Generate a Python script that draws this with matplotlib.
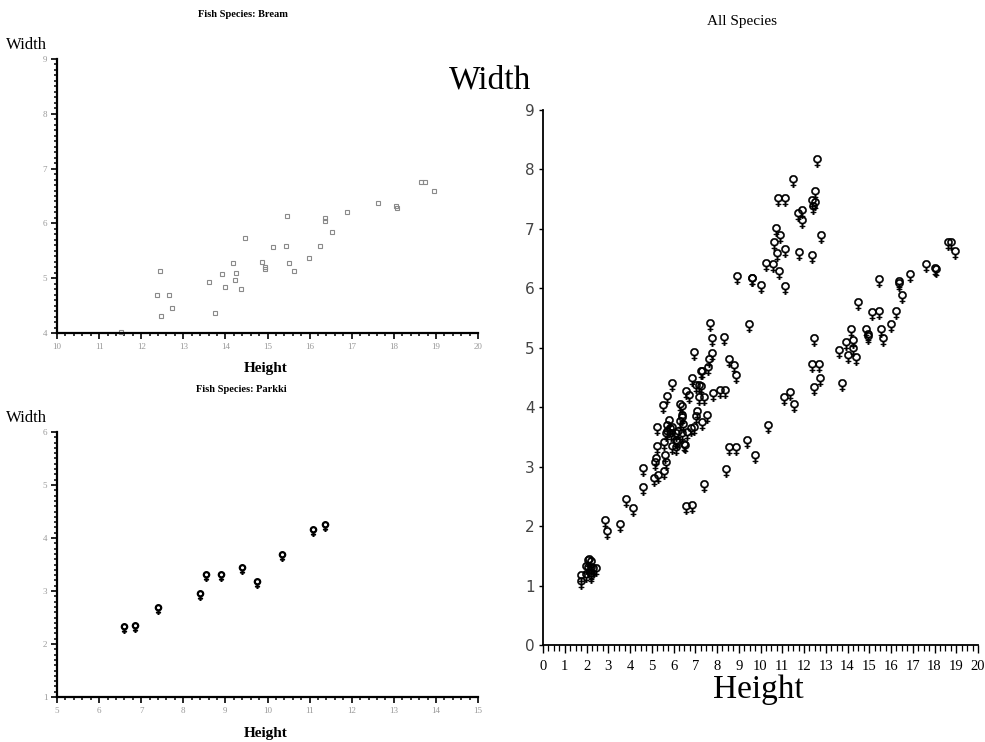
import matplotlib
matplotlib.use("Agg")
import matplotlib.pyplot as plt
from matplotlib.ticker import MultipleLocator

# Fish market data: (height, width) per species
bream_h = [11.52, 12.48, 12.38, 12.73, 12.44, 13.60, 14.18, 12.67, 14.00, 14.23,
           14.26, 14.37, 13.76, 13.91, 14.95, 15.44, 14.86, 14.94, 15.63, 14.47,
           15.13, 15.99, 15.52, 15.47, 16.24, 16.36, 16.36, 16.52, 16.89, 18.96,
           18.04, 18.08, 18.75, 18.64, 17.62]
bream_w = [4.02, 4.31, 4.70, 4.46, 5.13, 4.93, 5.28, 4.69, 4.84, 4.96,
           5.10, 4.81, 4.37, 5.07, 5.17, 5.58, 5.29, 5.20, 5.13, 5.73,
           5.57, 5.37, 5.28, 6.13, 5.59, 6.05, 6.09, 5.85, 6.20, 6.60,
           6.31, 6.29, 6.75, 6.75, 6.37]

parkki_h = [6.85, 6.58, 7.41, 8.39, 8.89, 8.54, 9.40, 9.74, 10.35, 11.09, 11.37]
parkki_w = [2.33, 2.31, 2.67, 2.92, 3.29, 3.29, 3.41, 3.16, 3.66, 4.14, 4.23]

roach_h = [4.15, 5.30, 5.58, 5.62, 6.22, 6.48, 6.17, 6.11, 5.80, 6.63,
           7.03, 6.55, 6.40, 7.53, 6.92, 7.40, 7.09, 8.88, 8.57, 9.49]
roach_w = [2.27, 2.82, 2.90, 3.17, 3.57, 3.35, 3.40, 3.29, 3.75, 3.55,
           3.82, 3.33, 3.80, 3.84, 3.63, 4.13, 3.91, 4.50, 4.77, 5.36]

whitefish_h = [8.38, 8.15, 8.78, 10.74, 11.76, 12.35]
whitefish_w = [4.25, 4.25, 4.68, 6.56, 6.57, 6.53]

perch_h = [2.11, 3.53, 3.82, 4.59, 4.59, 5.22, 5.20, 5.64, 5.14, 5.08,
           5.69, 5.92, 5.69, 6.38, 6.11, 5.64, 6.11, 5.88, 5.52, 5.86,
           6.79, 5.95, 5.22, 6.28, 7.29, 6.38, 6.73, 6.44, 6.56, 7.17,
           8.32, 7.17, 7.05, 7.28, 7.82, 7.59, 7.62, 10.03, 10.26, 11.49,
           10.88, 10.61, 10.84, 10.57, 11.14, 11.14, 12.43, 11.93, 11.73, 12.38,
           11.14, 12.80, 11.93, 12.51, 12.60, 12.49]
perch_w = [1.41, 2.00, 2.43, 2.63, 2.94, 3.32, 3.12, 3.05, 3.04, 2.77,
           3.56, 3.31, 3.67, 3.53, 3.41, 3.53, 3.53, 3.53, 4.00, 3.62,
           3.62, 3.63, 3.63, 3.73, 3.72, 3.83, 4.17, 3.68, 4.24, 4.14,
           5.14, 4.34, 4.34, 4.57, 4.20, 4.64, 4.77, 6.02, 6.39, 7.80,
           6.86, 6.74, 6.26, 6.37, 7.49, 6.00, 7.35, 7.11, 7.23, 7.46,
           6.63, 6.87, 7.28, 7.42, 8.14, 7.60]

pike_h = [5.57, 5.71, 5.94, 6.29, 7.29, 6.40, 7.28, 6.83, 7.79, 6.96,
          7.79, 7.68, 8.93, 10.69, 9.60, 9.60, 10.81]
pike_w = [3.38, 4.16, 4.38, 4.02, 4.58, 3.98, 4.32, 4.46, 5.13, 4.90,
          4.87, 5.38, 6.17, 6.98, 6.14, 6.14, 7.48]

smelt_h = [1.74, 1.97, 1.73, 2.20, 2.08, 1.98, 2.21, 2.21, 2.20, 2.09,
           2.43, 2.28, 2.87, 2.93]
smelt_w = [1.05, 1.16, 1.15, 1.38, 1.28, 1.29, 1.28, 1.17, 1.15, 1.39,
           1.27, 1.26, 2.07, 1.88]

all_h = bream_h + roach_h + whitefish_h + parkki_h + perch_h + pike_h + smelt_h
all_w = bream_w + roach_w + whitefish_w + parkki_w + perch_w + pike_w + smelt_w

SERIF = "Liberation Serif"


def style_small(ax, xlim, ylim):
    ax.set_xlim(*xlim)
    ax.set_ylim(*ylim)
    ax.spines["top"].set_visible(False)
    ax.spines["right"].set_visible(False)
    ax.spines["left"].set_linewidth(1.6)
    ax.spines["bottom"].set_linewidth(1.6)
    ax.xaxis.set_major_locator(MultipleLocator(1))
    ax.xaxis.set_minor_locator(MultipleLocator(0.2))
    ax.yaxis.set_major_locator(MultipleLocator(1))
    ax.yaxis.set_minor_locator(MultipleLocator(0.1))
    ax.tick_params(which="major", length=4, width=1.2, labelsize=6.5,
                   labelcolor="#999999", pad=3)
    ax.tick_params(which="minor", length=2.5, width=1.1)
    for lab in ax.get_xticklabels() + ax.get_yticklabels():
        lab.set_family(SERIF)


fig = plt.figure(figsize=(9.85, 7.42), dpi=100)

# Bream
ax1 = fig.add_axes([0.0579, 0.5512, 0.4274, 0.3693])
ax1.plot(bream_h, bream_w, ls="none", marker="s", ms=3.4, mfc="none",
         mec="#8a8a8a", mew=0.8, clip_on=False)
style_small(ax1, (10, 20), (4, 9))
fig.text(0.2467, 0.981, "Fish Species: Bream", family=SERIF, weight="bold",
         fontsize=7.5, ha="center", va="center")
fig.text(0.006, 0.939, "Width", family=SERIF, fontsize=12, ha="left", va="center")
fig.text(0.270, 0.503, "Height", family=SERIF, weight="bold", fontsize=11,
         ha="center", va="center")

# Parkki
ax2 = fig.add_axes([0.0579, 0.0606, 0.4274, 0.3572])
ax2.plot(parkki_h, parkki_w, ls="none", marker="$♀$", ms=7, color="black",
         mew=0.9)
style_small(ax2, (5, 15), (1, 6))
fig.text(0.2447, 0.4757, "Fish Species: Parkki", family=SERIF, weight="bold",
         fontsize=7.5, ha="center", va="center")
fig.text(0.006, 0.4367, "Width", family=SERIF, fontsize=12, ha="left", va="center")
fig.text(0.270, 0.0121, "Height", family=SERIF, weight="bold", fontsize=11,
         ha="center", va="center")

# All species
ax3 = fig.add_axes([0.5513, 0.1307, 0.4416, 0.7211])
ax3.plot(all_h, all_w, ls="none", marker="$♀$", ms=9, color="black", mew=0.35)
ax3.set_xlim(0, 20)
ax3.set_ylim(0, 9)
ax3.spines["top"].set_visible(False)
ax3.spines["right"].set_visible(False)
ax3.spines["left"].set_linewidth(1.3)
ax3.spines["bottom"].set_linewidth(1.3)
ax3.xaxis.set_major_locator(MultipleLocator(1))
ax3.xaxis.set_minor_locator(MultipleLocator(0.25))
ax3.yaxis.set_major_locator(MultipleLocator(1))
ax3.tick_params(axis="x", which="major", length=6, width=1.0, labelsize=10.5,
                pad=5)
ax3.tick_params(axis="x", which="minor", length=4, width=0.9)
ax3.tick_params(axis="y", which="major", length=3, width=1.0, labelsize=11,
                labelcolor="#444444", pad=3)
for lab in ax3.get_xticklabels():
    lab.set_family(SERIF)
fig.text(0.7533, 0.9704, "All Species", family=SERIF, fontsize=11,
         ha="center", va="center")
fig.text(0.4975, 0.892, "Width", family=SERIF, fontsize=24, ha="center",
         va="center")
fig.text(0.7695, 0.070, "Height", family=SERIF, fontsize=24, ha="center",
         va="center")

fig.savefig("out.png", dpi=100)
